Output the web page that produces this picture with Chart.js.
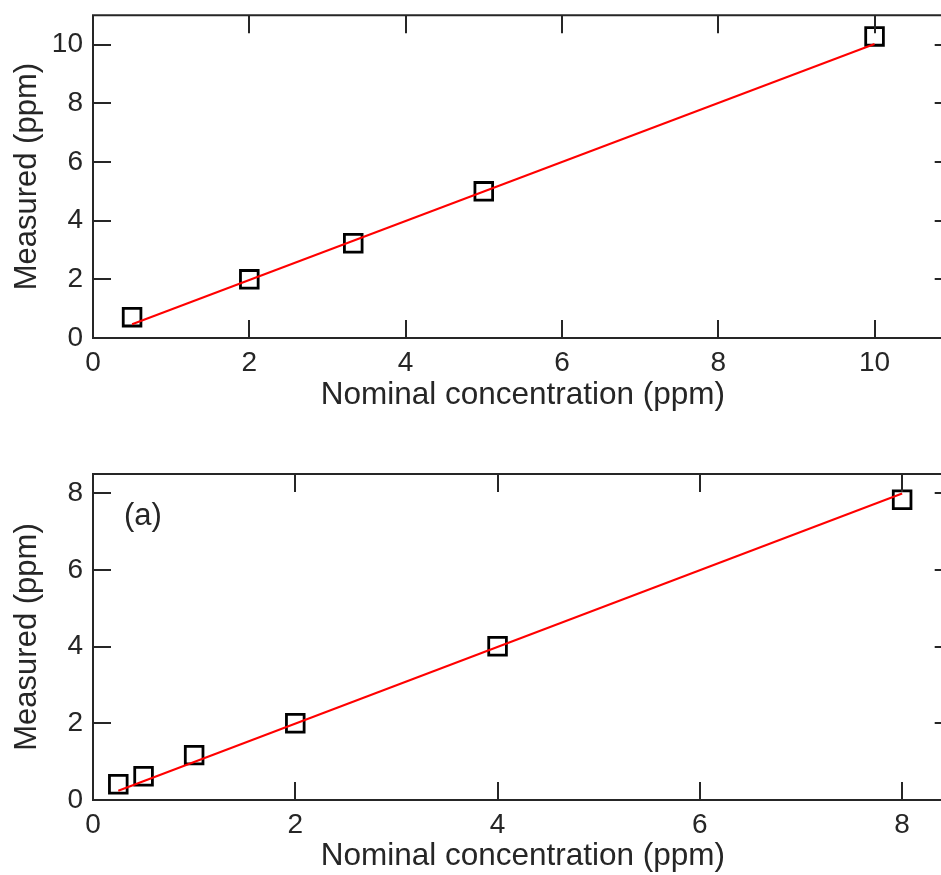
<!DOCTYPE html>
<html><head><meta charset="utf-8">
<script src="https://cdn.jsdelivr.net/npm/chart.js@4.4.0/dist/chart.umd.min.js"></script>
<style>
html,body{margin:0;padding:0;background:#fff;overflow:hidden;width:941px;height:875px;position:relative}
#c1{position:absolute;left:0;top:0}
#c2{position:absolute;left:0;top:430px}
</style></head><body>
<canvas id="c1" width="968" height="430"></canvas>
<canvas id="c2" width="968" height="445"></canvas>
<script>
// ---- data ----
const topNominal  = [0.5, 2, 3.33, 5, 10];
const topMeasured = [0.71, 2.0, 3.23, 5.0, 10.28];
const topFitX     = [0.5, 10];
const topFitY     = [0.47, 10.02];
const topXTicks   = [0, 2, 4, 6, 8, 10];
const topYTicks   = [0, 2, 4, 6, 8, 10];

const botNominal  = [0.25, 0.5, 1, 2, 4, 8];
const botMeasured = [0.41, 0.62, 1.17, 2.0, 4.01, 7.83];
const botFitX     = [0.25, 8];
const botFitY     = [0.24, 7.99];
const botXTicks   = [0, 2, 4, 6, 8];
const botYTicks   = [0, 2, 4, 6, 8];

const xTitle = 'Nominal concentration (ppm)';
const yTitle = 'Measured (ppm)';
const panelLabel = '(a)';

// ---- styling ----
const FONT = "'Liberation Sans', Arial, Helvetica, sans-serif";
const INK = '#262626';

const framePlugin = {
  id: 'frame',
  afterDatasetsDraw(chart, args, opts) {
    const {ctx, chartArea: a, scales: {x, y}} = chart;
    ctx.save();
    ctx.strokeStyle = INK;
    ctx.lineWidth = 2;
    ctx.beginPath();
    ctx.rect(a.left, a.top, a.right - a.left, a.bottom - a.top);
    ctx.stroke();
    const L = 18;
    ctx.beginPath();
    x.ticks.forEach(t => {
      const px = Math.round(x.getPixelForValue(t.value));
      ctx.moveTo(px, a.bottom); ctx.lineTo(px, a.bottom - L);
      ctx.moveTo(px, a.top); ctx.lineTo(px, a.top + L);
    });
    y.ticks.forEach(t => {
      const py = Math.round(y.getPixelForValue(t.value));
      ctx.moveTo(a.left, py); ctx.lineTo(a.left + L, py);
      ctx.moveTo(a.right, py); ctx.lineTo(a.right - L, py);
    });
    ctx.stroke();
    if (opts && opts.label) {
      ctx.fillStyle = INK;
      ctx.font = '31px ' + FONT;
      ctx.textAlign = 'left';
      ctx.textBaseline = 'middle';
      ctx.fillText(opts.label, a.left + 31, a.top + 42);
    }
    ctx.restore();
  }
};

function makeChart(id, cfg) {
  const pts = cfg.nx.map((v, i) => ({x: v, y: cfg.ny[i]}));
  const fit = cfg.fx.map((v, i) => ({x: v, y: cfg.fy[i]}));
  return new Chart(document.getElementById(id), {
    type: 'scatter',
    data: {
      datasets: [
        {data: fit, showLine: true, borderColor: '#ff0000', borderWidth: 2,
         pointRadius: 0, order: 0},
        {data: pts, pointStyle: 'rect', pointRadius: 12.5, pointHoverRadius: 12.5,
         borderColor: '#000', backgroundColor: 'rgba(0,0,0,0)', pointBorderWidth: 2.8,
         borderWidth: 2.8, order: 1}
      ]
    },
    options: {
      responsive: false, animation: false, devicePixelRatio: 1,
      layout: {padding: {top: cfg.padTop, right: 2, left: 0, bottom: 0}},
      plugins: {legend: {display: false}, tooltip: {enabled: false}, frame: {label: cfg.label}},
      scales: {
        x: {
          type: 'linear', min: 0, max: cfg.xmax,
          afterBuildTicks: s => { s.ticks = cfg.xt.map(v => ({value: v})); },
          afterFit: s => { s.height = cfg.xh; s.paddingLeft = 0; s.paddingRight = 0; },
          grid: {display: false, drawTicks: false}, border: {display: false},
          ticks: {color: INK, font: {family: FONT, size: 28}, padding: 8, maxRotation: 0},
          title: {display: true, text: xTitle, color: INK, font: {family: FONT, size: 31.5},
                  padding: {top: 0, bottom: cfg.xtPad}}
        },
        y: {
          type: 'linear', min: 0, max: cfg.ymax,
          afterBuildTicks: s => { s.ticks = cfg.yt.map(v => ({value: v})); },
          afterFit: s => { s.width = 93; s.paddingTop = 0; s.paddingBottom = 0; },
          grid: {display: false, drawTicks: false}, border: {display: false},
          ticks: {color: INK, font: {family: FONT, size: 28}, padding: 10},
          title: {display: true, text: yTitle, color: INK, font: {family: FONT, size: 31},
                  padding: {top: 8.4, bottom: 0}}
        }
      }
    },
    plugins: [framePlugin]
  });
}

makeChart('c1', {nx: topNominal, ny: topMeasured, fx: topFitX, fy: topFitY,
  xt: topXTicks, yt: topYTicks, xmax: 11, ymax: 11, padTop: 14, xh: 92, xtPad: 15.4, label: null});
makeChart('c2', {nx: botNominal, ny: botMeasured, fx: botFitX, fy: botFitY,
  xt: botXTicks, yt: botYTicks, xmax: 8.5, ymax: 8.5, padTop: 44, xh: 75, xtPad: 0, label: panelLabel});
</script>
</body></html>
